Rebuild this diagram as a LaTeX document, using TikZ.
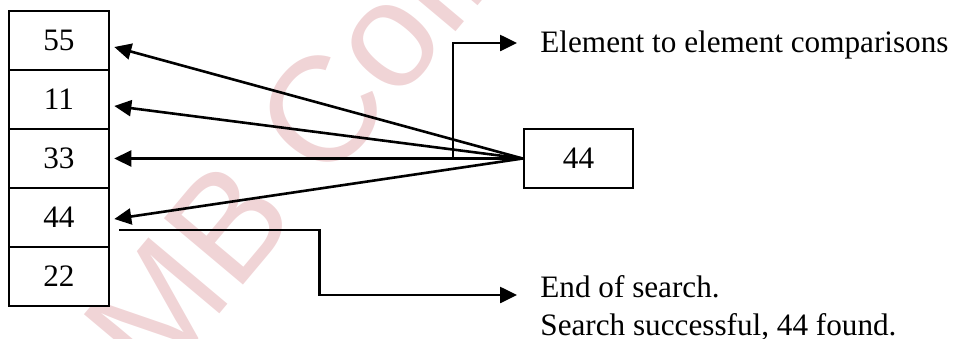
\documentclass[tikz,border=0pt]{standalone}
\usepackage{fontspec}
\setmainfont{Liberation Serif}
\newfontfamily\wmfont{Liberation Sans}
\usetikzlibrary{arrows.meta}
\definecolor{wmpink}{RGB}{240,212,214}
\tikzset{
  cell/.style={draw, line width=1.3pt, fill=white, minimum width=50pt, minimum height=29.5pt, inner sep=0pt},
  keybox/.style={draw, line width=1.3pt, fill=white, minimum width=54.5pt, minimum height=29.5pt, inner sep=0pt},
  arr/.style={line width=1.3pt, -{Triangle[length=8.5pt,width=8pt]}},
  lbl/.style={inner sep=0pt, anchor=base west},
}
\begin{document}
\begin{tikzpicture}[x=0.5pt, y=-0.5pt, font=\fontsize{15.6}{19}\selectfont]
\useasboundingbox (0,0) rectangle (960,338);
\clip (0,0) rectangle (960,338);
% watermark
\node[text=wmpink, rotate=50, inner sep=0pt, font=\wmfont\fontsize{75}{80}\selectfont] (wm) at (340,110) {DMB College};

% array cells
\node[cell] (r55) at (59,40.5) {55};
\node[cell] (r11) at (59,99.5) {11};
\node[cell] (r33) at (59,158.5) {33};
\node[cell] (r44) at (59,217.5) {44};
\node[cell] (r22) at (59,276.5) {22};

% search key
\node[keybox] (key) at (578.5,158.5) {44};

% labels
\node[lbl] (cmp) at (540,52) {Element to element comparisons};
\node[lbl] (end1) at (540,297) {End of search.};
\node[lbl] (end2) at (540,335) {Search successful, 44 found.};

% comparisons
\draw[arr] (key.west) -- ([xshift=2pt,yshift=-3.25pt]r55.east);
\draw[arr] (key.west) -- ([xshift=2pt,yshift=-3.25pt]r11.east);
\draw[arr] (key.west) -- ([xshift=2pt]r33.east);
\draw[arr] (key.west) -- ([xshift=2pt,yshift=-0.75pt]r44.east);

% callouts
\coordinate (c1) at (453,158.5);
\coordinate (t1) at (517,43);
\draw[arr] (c1) |- (t1);
\coordinate (s) at ([xshift=4.5pt,yshift=-6.25pt]r44.east);
\coordinate (t2) at (517,295);
\draw[arr] (s) -- ++(200,0) |- (t2);
\end{tikzpicture}
\end{document}
